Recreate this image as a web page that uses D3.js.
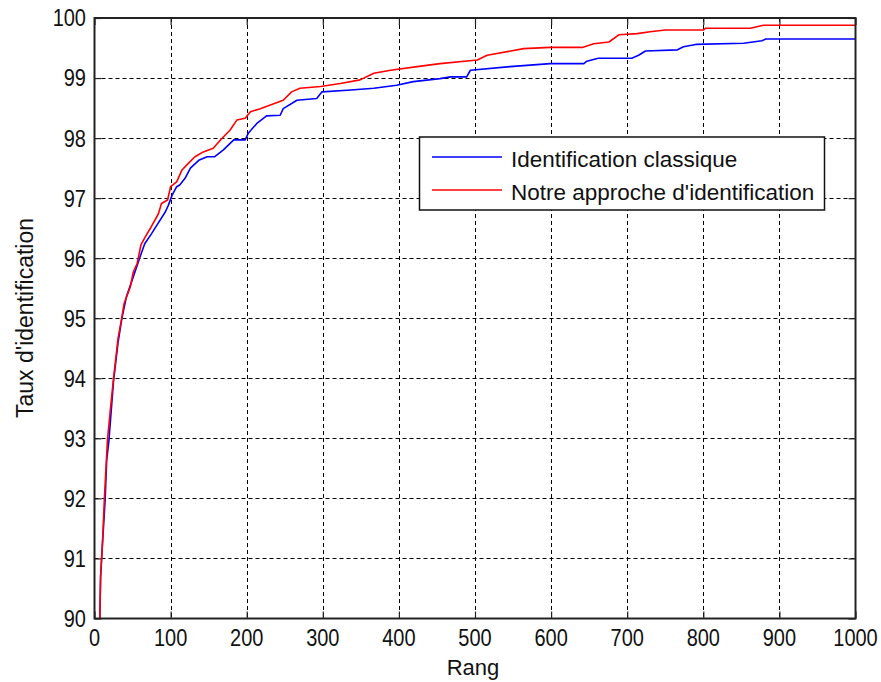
<!DOCTYPE html>
<html>
<head>
<meta charset="utf-8">
<script src="https://cdn.jsdelivr.net/npm/d3@7"></script>
<style>
  html, body { margin: 0; padding: 0; background: #fff; }
  svg { display: block; }
  text { font-family: "Liberation Sans", Arial, sans-serif; fill: #111; }
</style>
</head>
<body>
<svg id="chart" width="881" height="682"></svg>
<script>
// ---- data ----
const xTicks = [0, 100, 200, 300, 400, 500, 600, 700, 800, 900, 1000];
const yTicks = [90, 91, 92, 93, 94, 95, 96, 97, 98, 99, 100];

const classiqueRank = [7,8,11,14,16,19,25,31,36,42,51,62,66,75,82,93,97,102,108,112,119,126,137,148,158,169,183,198,202,213,226,244,248,266,292,299,337,367,397,419,454,468,489,494,546,599,643,647,662,706,715,724,766,774,790,853,877,882,1000];
const classiqueRate = [90.0,90.69,91.35,91.98,92.63,92.97,93.95,94.6,95.0,95.36,95.69,96.1,96.24,96.41,96.55,96.77,96.88,97.05,97.19,97.22,97.33,97.5,97.63,97.69,97.69,97.8,97.97,97.97,98.08,98.24,98.37,98.38,98.49,98.63,98.66,98.77,98.8,98.83,98.88,98.94,98.99,99.02,99.02,99.13,99.19,99.24,99.24,99.28,99.33,99.33,99.38,99.45,99.47,99.52,99.56,99.58,99.62,99.65,99.65];

const approcheRank = [7,8,11,13,17,21,25,31,36,39,47,51,56,61,66,73,84,88,96,100,108,115,121,132,143,156,167,178,187,198,205,218,231,248,259,270,297,323,349,367,389,424,454,503,516,564,599,641,656,676,689,713,730,750,800,803,862,879,1000];
const approcheRate = [90.0,90.7,91.4,92.0,92.97,93.5,94.0,94.67,95.02,95.25,95.52,95.77,95.91,96.22,96.34,96.49,96.74,96.91,96.97,97.19,97.27,97.47,97.55,97.69,97.77,97.83,97.99,98.13,98.3,98.33,98.44,98.49,98.55,98.63,98.77,98.83,98.86,98.91,98.97,99.08,99.13,99.19,99.24,99.3,99.38,99.49,99.51,99.51,99.57,99.6,99.72,99.74,99.77,99.8,99.8,99.83,99.83,99.88,99.88];

const seriesNames = ["Identification classique", "Notre approche d'identification"];
const seriesColors = ["#0000ff", "#ff0000"];
const xLabel = "Rang";
const yLabel = "Taux d'identification";

// ---- layout ----
const L = 94.5, R = 855.5, T = 18, B = 618.5;
const svg = d3.select("#chart");
svg.append("rect").attr("width", 881).attr("height", 682).attr("fill", "#fff");

const x = d3.scaleLinear().domain([0, 1000]).range([L, R]);
const y = d3.scaleLinear().domain([90, 100]).range([B, T]);

// grid
const grid = svg.append("g").attr("stroke", "#000").attr("stroke-width", 1)
  .attr("stroke-dasharray", "4,3").attr("fill", "none");
xTicks.slice(1, -1).forEach(t => {
  grid.append("line").attr("x1", Math.round(x(t)) + 0.5).attr("x2", Math.round(x(t)) + 0.5)
    .attr("y1", T).attr("y2", B);
});
yTicks.slice(1, -1).forEach(t => {
  grid.append("line").attr("y1", Math.round(y(t)) + 0.5).attr("y2", Math.round(y(t)) + 0.5)
    .attr("x1", L).attr("x2", R);
});

// inward ticks on all four sides via d3 axes
const tickLen = 7;
function styleAxis(g) {
  g.select(".domain").remove();
  g.selectAll("text").remove();
  g.selectAll("line").attr("stroke", "#222").attr("stroke-width", 1.2);
}
svg.append("g").attr("transform", `translate(0,${B})`)
  .call(d3.axisBottom(x).tickValues(xTicks).tickSizeInner(-tickLen).tickSizeOuter(0)).call(styleAxis);
svg.append("g").attr("transform", `translate(0,${T})`)
  .call(d3.axisTop(x).tickValues(xTicks).tickSizeInner(-tickLen).tickSizeOuter(0)).call(styleAxis);
svg.append("g").attr("transform", `translate(${L},0)`)
  .call(d3.axisLeft(y).tickValues(yTicks).tickSizeInner(-tickLen).tickSizeOuter(0)).call(styleAxis);
svg.append("g").attr("transform", `translate(${R},0)`)
  .call(d3.axisRight(y).tickValues(yTicks).tickSizeInner(-tickLen).tickSizeOuter(0)).call(styleAxis);

// clip
svg.append("clipPath").attr("id", "clip").append("rect")
  .attr("x", L).attr("y", T).attr("width", R - L).attr("height", B - T);

// lines
const line = d3.line().x(d => x(d[0])).y(d => y(d[1]));
const seriesData = [
  d3.zip(classiqueRank, classiqueRate),
  d3.zip(approcheRank, approcheRate)
];
seriesData.forEach((d, i) => {
  svg.append("path").datum(d).attr("d", line)
    .attr("fill", "none").attr("stroke", seriesColors[i]).attr("stroke-width", 1.6)
    .attr("stroke-linejoin", "round").attr("clip-path", "url(#clip)");
});

// frame
svg.append("rect").attr("x", L).attr("y", T).attr("width", R - L).attr("height", B - T)
  .attr("fill", "none").attr("stroke", "#222").attr("stroke-width", 2);

// tick labels
const sy = 1.18;
xTicks.forEach(t => {
  svg.append("text").attr("transform", `translate(${x(t)},646) scale(1,${sy})`)
    .attr("text-anchor", "middle").attr("font-size", 20).text(t);
});
yTicks.forEach(t => {
  svg.append("text").attr("transform", `translate(86,${y(t) + 8.4}) scale(1,${sy})`)
    .attr("text-anchor", "end").attr("font-size", 20).text(t);
});

// axis labels
svg.append("text").attr("x", 473).attr("y", 675).attr("text-anchor", "middle")
  .attr("font-size", 22).text(xLabel);
svg.append("text").attr("transform", "translate(33,318) rotate(-90)")
  .attr("text-anchor", "middle").attr("font-size", 23).text(yLabel);

// legend
const lg = svg.append("g");
lg.append("rect").attr("x", 419.5).attr("y", 137).attr("width", 405).attr("height", 73)
  .attr("fill", "#fff").attr("stroke", "#111").attr("stroke-width", 1.5);
const rowY = [157, 190];
seriesNames.forEach((name, i) => {
  lg.append("line").attr("x1", 432).attr("x2", 502).attr("y1", rowY[i]).attr("y2", rowY[i])
    .attr("stroke", seriesColors[i]).attr("stroke-width", 1.6);
  lg.append("text").attr("x", 511).attr("y", rowY[i] + 9.5).attr("font-size", 22.5).text(name);
});
</script>
</body>
</html>
